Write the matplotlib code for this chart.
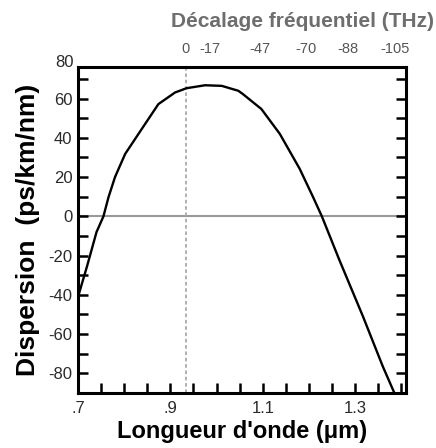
import matplotlib
matplotlib.use('Agg')
import matplotlib.pyplot as plt
from matplotlib.ticker import MultipleLocator, FixedLocator
import numpy as np

plt.rcParams['font.family'] = ['Liberation Sans', 'DejaVu Sans']
plt.rcParams['axes.unicode_minus'] = False

# Dispersion curve
wavelength = [0.700, 0.720, 0.740, 0.755, 0.766, 0.780, 0.802, 0.845, 0.874, 0.910,
              0.935, 0.975, 1.011, 1.047, 1.057, 1.097, 1.137, 1.180, 1.209, 1.228,
              1.266, 1.317, 1.360, 1.385]
dispersion = [-41, -25, -8, 0, 9.8, 20, 31.8, 47, 57.2, 63.1,
              65.3, 66.8, 66.5, 64, 62.3, 54.7, 42, 24.2, 9.8, 0,
              -22.3, -51, -76.5, -90]

# Pump wavelength (dotted line) and frequency-shift labels on the top axis
pump_wl = 0.933
freq_shift = [0, -17, -47, -70, -88, -105]
freq_labels = ['0', '-17', '-47', '-70', '-88', '-105']

x_major = [0.7, 0.9, 1.1, 1.3]
x_labels = ['.7', '.9', '1.1', '1.3']
y_major = [-80, -60, -40, -20, 0, 20, 40, 60]

c_um = 299.792458  # THz * um
top_pos = [c_um / (c_um / pump_wl + df) for df in freq_shift]

fig = plt.figure(figsize=(4.36, 4.48), dpi=100)
ax = fig.add_axes([0.179, 0.1228, 0.752, 0.7272])

ax.axhline(0, color='#999999', lw=1.5, zorder=1)
ax.axvline(pump_wl, color='#aaaaaa', lw=1.3, ls=(0, (2, 1.5)), zorder=1)
ax.plot(wavelength, dispersion, color='black', lw=1.7, zorder=3)

ax.set_xlim(0.7, 1.41)
ax.set_ylim(-90, 76)

ax.xaxis.set_major_locator(FixedLocator(x_major))
ax.xaxis.set_minor_locator(MultipleLocator(0.05))
ax.set_xticklabels(x_labels)
ax.yaxis.set_major_locator(FixedLocator(y_major))
ax.yaxis.set_minor_locator(MultipleLocator(10))

ax.tick_params(which='both', direction='in', top=True, right=True,
               length=7, width=1.8, labelsize=12, labelcolor='#2a2a2a')
ax.tick_params(axis='x', pad=6)
ax.tick_params(axis='y', pad=4)
for s in ax.spines.values():
    s.set_linewidth(2.2)

# "80" label sits just above the top edge in the original
ax.annotate('80', xy=(0, 78.5), xycoords=('axes fraction', 'data'),
            xytext=(-3, 0), textcoords='offset points', ha='right', va='center',
            fontsize=12, color='#2a2a2a', annotation_clip=False)

top = ax.twiny()
top.set_xlim(ax.get_xlim())
top.set_xticks(top_pos)
top.set_xticklabels(freq_labels)
top.tick_params(length=0, labelsize=10.5, labelcolor='#555555', pad=8)
for s in top.spines.values():
    s.set_visible(False)

ax.set_xlabel("Longueur d'onde (μm)", fontsize=17, fontweight='bold', labelpad=3)
ax.set_ylabel('Dispersion  (ps/km/nm)', fontsize=19, fontweight='bold', labelpad=6)
fig.text(0.694, 0.94, 'Décalage fréquentiel (THz)', ha='center', va='baseline',
         fontsize=15, fontweight='bold', color='#6e6e6e')

fig.savefig('out.png', dpi=100)
